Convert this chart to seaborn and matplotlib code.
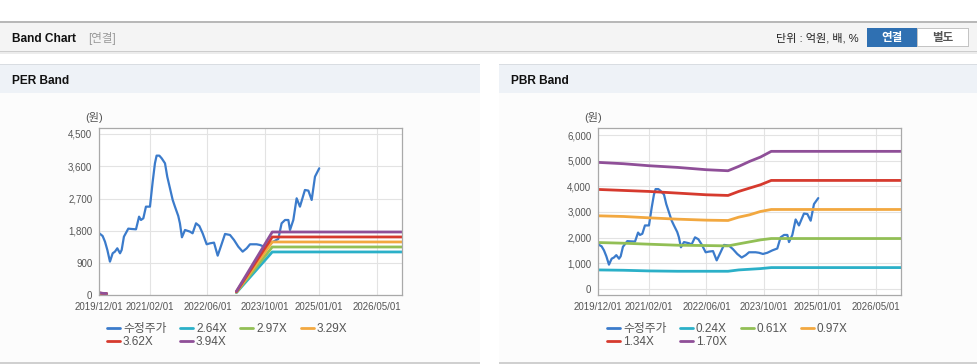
import numpy as np
import pandas as pd
import matplotlib.pyplot as plt
import matplotlib.dates as mdates
from matplotlib.lines import Line2D
from matplotlib.patches import Rectangle
from matplotlib.ticker import FuncFormatter
import seaborn as sns

W, H = 978, 364

# Prezzo (수정주가), comune ai due grafici
price_dates = [
    "2019-12-01", "2019-12-29", "2020-01-18", "2020-02-07", "2020-02-29", "2020-03-23",
    "2020-04-11", "2020-05-01", "2020-05-24", "2020-06-07", "2020-06-26", "2020-08-02",
    "2020-08-30", "2020-10-06", "2020-11-01", "2020-11-17", "2020-12-07", "2020-12-29",
    "2021-02-01", "2021-02-24", "2021-03-15", "2021-03-29", "2021-04-21", "2021-05-11",
    "2021-06-08", "2021-06-27", "2021-07-20", "2021-08-12", "2021-08-31", "2021-09-28",
    "2021-10-12", "2021-10-29", "2021-11-24", "2022-01-05", "2022-01-27", "2022-02-25",
    "2022-03-25", "2022-04-22", "2022-05-26", "2022-06-23", "2022-07-27", "2022-08-27",
    "2022-09-24", "2022-10-28", "2022-12-09", "2023-01-12", "2023-02-17", "2023-03-26",
    "2023-04-29", "2023-05-27", "2023-07-22", "2023-08-19", "2023-09-22", "2023-10-29",
    "2023-12-10", "2024-01-21", "2024-02-18", "2024-03-18", "2024-04-15", "2024-04-29",
    "2024-05-27", "2024-06-24", "2024-07-22", "2024-09-02", "2024-10-01", "2024-10-29",
    "2024-11-12", "2024-11-26", "2025-01-01",
]
price_values = [
    1729, 1655, 1497, 1265, 939, 1172,
    1218, 1311, 1172, 1265, 1636, 1860,
    1850, 1841, 2194, 2101, 2148, 2473,
    2473, 3170, 3682, 3896, 3896, 3821,
    3682, 3310, 2985, 2659, 2473, 2213,
    2008, 1618, 1822, 1776, 1729, 2008,
    1934, 1729, 1423, 1450, 1469, 1106,
    1376, 1711, 1683, 1543, 1357, 1218,
    1311, 1423, 1423, 1404, 1357, 1404,
    1497, 1571, 2008, 2101, 2101, 1822,
    2101, 2706, 2473, 2938, 2920, 2659,
    2985, 3310, 3543,
]

# PER band
per_labels = ["2.64X", "2.97X", "3.29X", "3.62X", "3.94X"]
per_dates = ["2019-12-01", "2020-01-01", "2020-02-01", "2023-02-01", "2023-12-01", "2026-12-01"]
per_seg = [0, 0, 0, 1, 1, 1]
per_264 = [47, 37, 33, 74, 1209, 1209]
per_297 = [52, 41, 37, 83, 1348, 1348]
per_329 = [58, 46, 42, 92, 1488, 1488]
per_362 = [64, 50, 46, 100, 1627, 1627]
per_394 = [70, 55, 50, 110, 1766, 1766]

# PBR band
pbr_labels = ["0.24X", "0.61X", "0.97X", "1.34X", "1.70X"]
pbr_dates = ["2019-12-01", "2020-07-01", "2021-02-01", "2021-10-01", "2022-06-01", "2022-12-01",
             "2023-03-01", "2023-06-01", "2023-09-01", "2023-12-01", "2026-12-01"]
pbr_seg = [0] * len(pbr_dates)
pbr_024 = [732, 719, 693, 680, 680, 680, 732, 758, 784, 824, 824]
pbr_061 = [1804, 1778, 1739, 1699, 1686, 1673, 1752, 1830, 1908, 1961, 1961]
pbr_097 = [2850, 2824, 2771, 2719, 2680, 2667, 2797, 2889, 3020, 3098, 3098]
pbr_134 = [3882, 3843, 3804, 3739, 3673, 3647, 3804, 3935, 4065, 4235, 4235]
pbr_170 = [4941, 4889, 4810, 4745, 4654, 4614, 4784, 4980, 5150, 5373, 5373]

xtick_dates = ["2019/12/01", "2021/02/01", "2022/06/01", "2023/10/01", "2025/01/01", "2026/05/01"]
per_yticks = [0, 900, 1800, 2700, 3600, 4500]
pbr_yticks = [0, 1000, 2000, 3000, 4000, 5000, 6000]

PRICE_NAME = "수정주가"
PRICE_COLOR = "#3b7bcb"
BAND_COLORS = ["#2bb0c8", "#92bf55", "#f2a840", "#d63a2e", "#8f4f98"]

sns.set_style("white")
plt.rcParams["font.family"] = ["Liberation Sans", "Noto Sans CJK KR", "DejaVu Sans"]


def build_frame(band_dates, band_seg, labels, bands):
    frames = [pd.DataFrame({"date": pd.to_datetime(price_dates), "value": price_values,
                            "series": PRICE_NAME, "seg": 0})]
    for lab, vals in zip(labels, bands):
        frames.append(pd.DataFrame({"date": pd.to_datetime(band_dates), "value": vals,
                                    "series": lab, "seg": band_seg}))
    return pd.concat(frames, ignore_index=True)


def px_rect(fig, x, y, w, h, color, z=0):
    fig.add_artist(Rectangle((x / W, 1 - (y + h) / H), w / W, h / H, transform=fig.transFigure,
                             facecolor=color, edgecolor="none", zorder=z))


def draw_panel(fig, ax, df, labels, ylim, yticks, legend_x):
    order = [PRICE_NAME] + labels
    palette = dict(zip(order, [PRICE_COLOR] + BAND_COLORS))
    sns.lineplot(data=df[df["series"] == PRICE_NAME], x="date", y="value", color=PRICE_COLOR,
                 estimator=None, lw=1.6, ax=ax, legend=False)
    sns.lineplot(data=df[df["series"] != PRICE_NAME], x="date", y="value", hue="series",
                 hue_order=labels, palette=palette, units="seg", estimator=None, lw=2.0,
                 ax=ax, legend=False)
    ax.set_xlim(pd.Timestamp("2019-12-01"), pd.Timestamp("2026-12-01"))
    ax.set_ylim(*ylim)
    ax.set_xticks(pd.to_datetime(xtick_dates))
    ax.xaxis.set_major_formatter(mdates.DateFormatter("%Y/%m/%d"))
    ax.set_yticks(yticks)
    ax.yaxis.set_major_formatter(FuncFormatter(lambda v, _: f"{int(v):,}"))
    ax.set_xlabel("")
    ax.set_ylabel("")
    ax.set_facecolor("white")
    ax.grid(True, color="#e3e3e3", lw=0.8)
    for sp in ax.spines.values():
        sp.set_color("#a9a9a9")
        sp.set_linewidth(0.9)
    ax.tick_params(axis="both", length=3, width=0.8, color="#a9a9a9", labelcolor="#555555",
                   labelsize=7, pad=2)

    # legenda: riordino per avere il riempimento per righe
    handles = [Line2D([], [], color=palette[k], lw=2) for k in order]
    idx = [0, 4, 1, 5, 2, 3]
    leg = ax.legend([handles[i] for i in idx], [order[i] for i in idx], ncol=4,
                    loc="upper left", bbox_to_anchor=(legend_x / W, 1 - 323 / H),
                    bbox_transform=fig.transFigure, frameon=False, fontsize=8.5,
                    handlelength=1.1, handletextpad=0.25, columnspacing=1.15,
                    labelspacing=0.1, borderpad=0, borderaxespad=0)
    for t in leg.get_texts():
        t.set_color("#555555")


fig = plt.figure(figsize=(W / 100, H / 100), dpi=100)
fig.patch.set_facecolor("white")

# barra superiore
px_rect(fig, 0, 22, W, 29, "#f4f4f4")
px_rect(fig, 0, 21, W, 1.5, "#b8b8b8")
px_rect(fig, 0, 51, W, 1.2, "#cdcdcd")
px_rect(fig, 0, 52.2, W, 2, "#ececec")
fig.text(12 / W, 1 - 38.5 / H, "Band Chart", weight="bold", size=8.6, va="center", color="#111111")
fig.text(88 / W, 1 - 38.5 / H, "[연결]", size=8.3, va="center", color="#999999")
fig.text(859 / W, 1 - 38.5 / H, "단위 : 억원, 배, %", size=8, va="center", ha="right", color="#222222")
px_rect(fig, 867, 28, 51, 19, "#2f70b2", z=1)
px_rect(fig, 917, 28, 52, 19, "#c4c4c4", z=1)
px_rect(fig, 918, 29, 50, 17, "white", z=2)
fig.text(892 / W, 1 - 37.8 / H, "연결", size=8.3, weight="bold", va="center", ha="center",
         color="white", zorder=3)
fig.text(943 / W, 1 - 37.8 / H, "별도", size=8.3, weight="bold", va="center", ha="center",
         color="#555555", zorder=3)

# pannelli
for x0, title in [(0, "PER Band"), (499, "PBR Band")]:
    pw = 480 if x0 == 0 else 479
    px_rect(fig, x0, 64, pw, 29, "#eef2f7")
    px_rect(fig, x0, 63.5, pw, 1, "#d9dde2")
    px_rect(fig, x0, 93, pw, 269, "#fcfcfc")
    px_rect(fig, x0, 362, pw, 2, "#d0d0d0")
    fig.text((x0 + 12) / W, 1 - 80.5 / H, title, weight="bold", size=8.6, va="center", color="#111111")

per_df = build_frame(per_dates, per_seg, per_labels, [per_264, per_297, per_329, per_362, per_394])
pbr_df = build_frame(pbr_dates, pbr_seg, pbr_labels, [pbr_024, pbr_061, pbr_097, pbr_134, pbr_170])

ax1 = fig.add_axes([99.3 / W, 1 - 295.3 / H, 302.7 / W, 167.3 / H])
draw_panel(fig, ax1, per_df, per_labels, (0, 4667), per_yticks, 107)
fig.text(94 / W, 1 - 117.5 / H, "(원)", size=8, ha="center", va="center", color="#555555")

ax2 = fig.add_axes([598.3 / W, 1 - 295.3 / H, 302.7 / W, 167.3 / H])
draw_panel(fig, ax2, pbr_df, pbr_labels, (-261, 6287), pbr_yticks, 607)
fig.text(593 / W, 1 - 117.5 / H, "(원)", size=8, ha="center", va="center", color="#555555")

fig.savefig("out.png", dpi=100)
